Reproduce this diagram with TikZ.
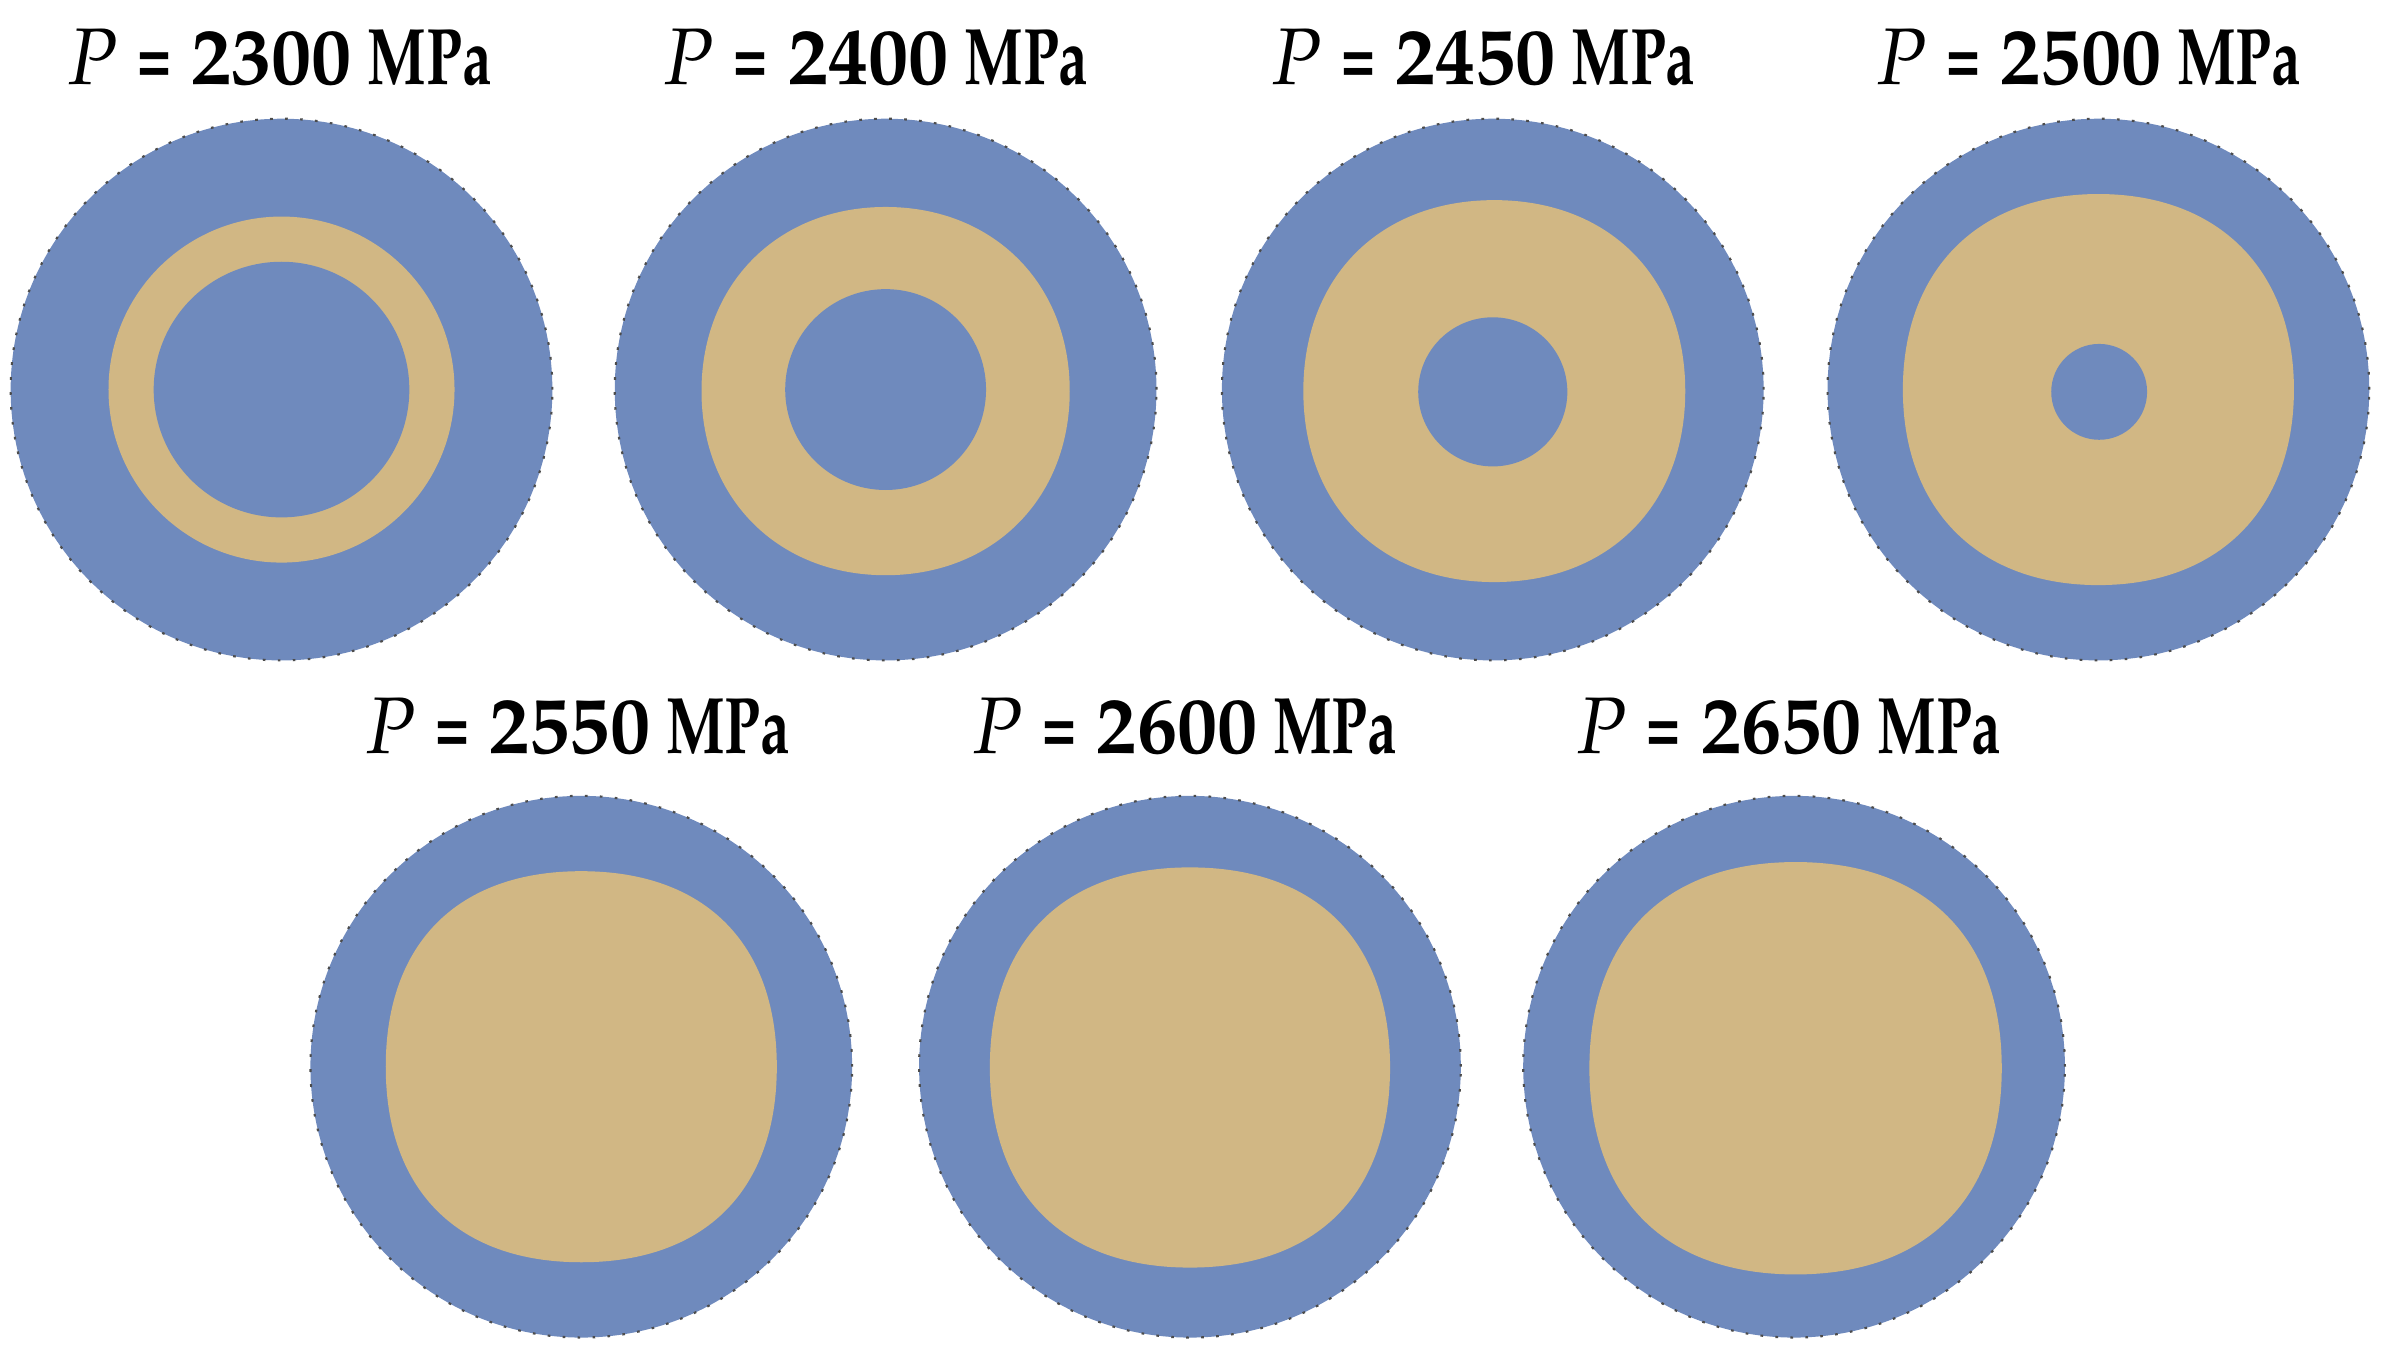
\documentclass[tikz,border=0pt]{standalone}
\usepackage[T1]{fontenc}
\usepackage{mathpazo}
\usepackage{graphicx}
\definecolor{ringblue}{RGB}{111,138,189}
\definecolor{coretan}{RGB}{209,183,132}
% rounded (super-elliptic) core: centre x, centre y, half size, control factor
\newcommand\corefill[4]{%
  \fill[coretan] (#1+#3,#2)
    .. controls (#1+#3,#2+#4*#3) and (#1+#4*#3,#2+#3) .. (#1,#2+#3)
    .. controls (#1-#4*#3,#2+#3) and (#1-#3,#2+#4*#3) .. (#1-#3,#2)
    .. controls (#1-#3,#2-#4*#3) and (#1-#4*#3,#2-#3) .. (#1,#2-#3)
    .. controls (#1+#4*#3,#2-#3) and (#1+#3,#2-#4*#3) .. (#1+#3,#2) -- cycle;}
\newcommand\holefill[3]{\fill[ringblue] (#1,#2) circle[radius=#3];}
\newcommand\plabel[1]{\textit{\mdseries P} \scalebox{0.7}[1]{=} #1\hspace{0.2em}\scalebox{0.73}[1]{MPa}}
\begin{document}
\begin{tikzpicture}[x=0.1mm,y=-0.1mm,
  disk/.style={circle,fill=ringblue,draw=black!70,line width=0.4pt,dash pattern=on 0.5pt off 2.3pt,minimum size=35.6mm,inner sep=0pt},
  lbl/.style={anchor=base,inner sep=0pt,font=\fontsize{15}{18}\selectfont\bfseries}]
\useasboundingbox (0,0) rectangle (1568,896);
% disks
\node[disk] (d1) at (185,256) {};
\node[disk] (d2) at (582,256) {};
\node[disk] (d3) at (981,256) {};
\node[disk] (d4) at (1379,256) {};
\node[disk] (d5) at (382,701) {};
\node[disk] (d6) at (782,701) {};
\node[disk] (d7) at (1179,701) {};
% cores
\corefill{185}{256}{113.7}{0.552}
\holefill{185}{256}{84}
\corefill{582}{257}{121}{0.584}
\holefill{582}{256}{66}
\corefill{982}{257}{125.5}{0.599}
\holefill{981}{257.5}{49}
\corefill{1379}{256}{128.5}{0.613}
\holefill{1379.5}{257.5}{31.5}
\corefill{382}{701}{128.5}{0.632}
\corefill{782}{701.5}{131.5}{0.632}
\corefill{1180}{702}{135.5}{0.632}
% labels
\node[lbl] (l1) at (184,55.4) {\plabel{2300}};
\node[lbl] (l2) at (576,55.4) {\plabel{2400}};
\node[lbl] (l3) at (975,55.4) {\plabel{2450}};
\node[lbl] (l4) at (1373,55.4) {\plabel{2500}};
\node[lbl] (l5) at (380,495) {\plabel{2550}};
\node[lbl] (l6) at (779,495) {\plabel{2600}};
\node[lbl] (l7) at (1176,495) {\plabel{2650}};
\end{tikzpicture}
\end{document}
